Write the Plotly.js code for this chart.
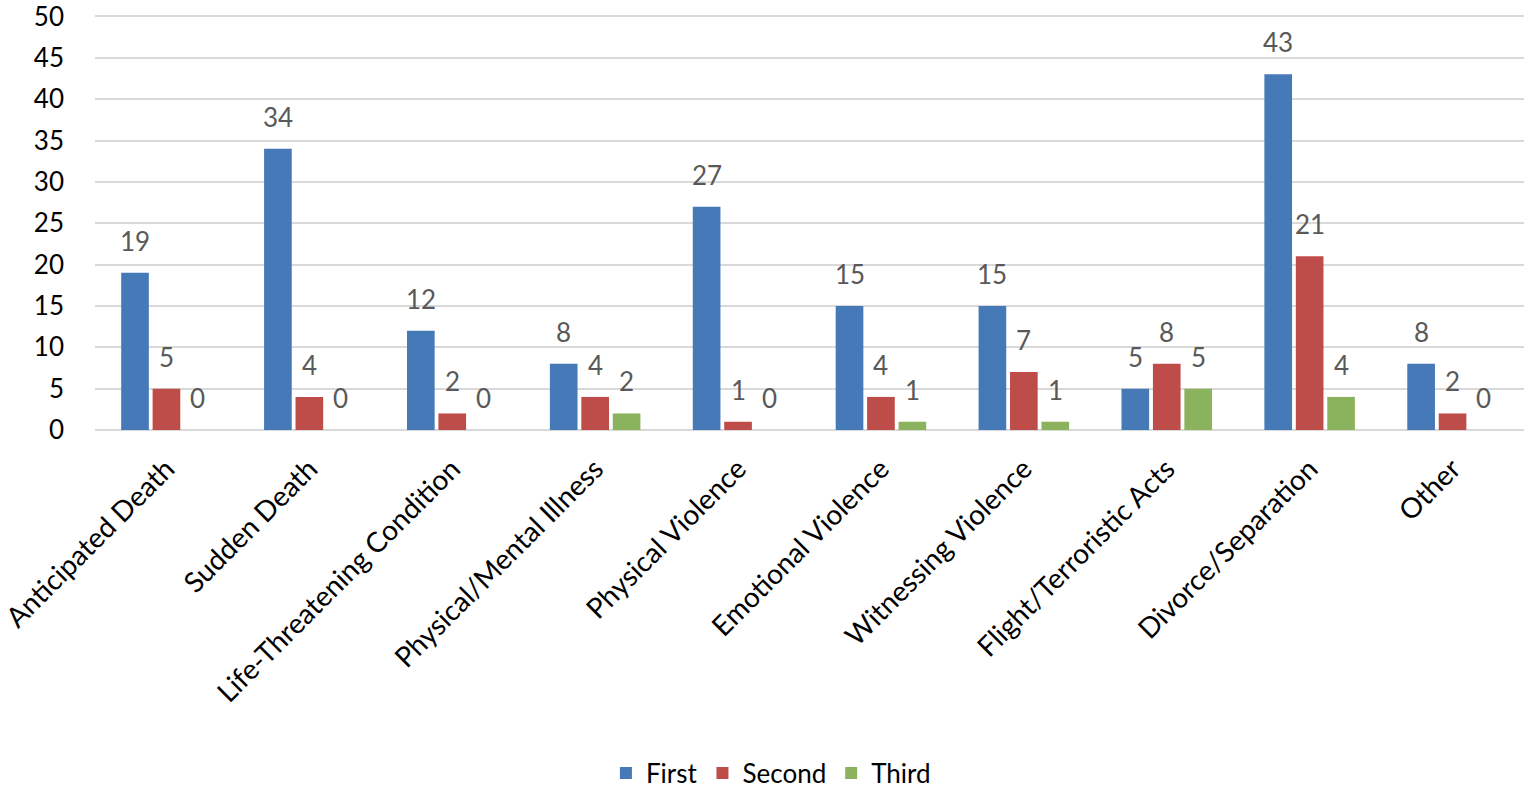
<!DOCTYPE html>
<html>
<head>
<meta charset="utf-8">
<script src="https://cdn.plot.ly/plotly-3.0.1.min.js"></script>
<style>html,body{margin:0;padding:0;background:#fff;}#chart{width:1524px;height:797px;}</style>
</head>
<body>
<div id="chart"></div>
<script>
const categories = ["Anticipated Death","Sudden Death","Life-Threatening Condition","Physical/Mental Illness","Physical Violence","Emotional Violence","Witnessing Violence","Flight/Terroristic Acts","Divorce/Separation","Other"];
const firstVals = [19,34,12,8,27,15,15,5,43,8];
const secondVals = [5,4,2,4,1,4,7,8,21,2];
const thirdVals = [0,0,0,2,0,1,1,5,4,0];
const seriesNames = ["First","Second","Third"];
const seriesColors = ["#4579B8","#BE4D4A","#8BB35D"];
const yTicks = [0,5,10,15,20,25,30,35,40,45,50];

const allVals = [firstVals, secondVals, thirdVals];
const FONT = "Lato, 'Open Sans', sans-serif";

const traces = allVals.map((v,i)=>({
  type:'bar', name:seriesNames[i], x:categories, y:v,
  marker:{color:seriesColors[i]}, hoverinfo:'skip'
}));

const plotW = 1524-95, nCat = categories.length, bargap = 0.34, groupgap = 0.12;
const slot = plotW/nCat*(1-bargap)/3;
const annotations = [];
allVals.forEach((v,i)=>{
  v.forEach((val,j)=>{
    annotations.push({xref:'x', yref:'y', x:categories[j], y:val, text:String(val),
      showarrow:false, xshift:(i-1)*slot, yanchor:'bottom', yshift:14,
      font:{family:FONT, size:26, color:'#595959'}});
  });
});

const layout = {
  width:1524, height:797,
  margin:{l:95, r:0, t:14, b:364},
  paper_bgcolor:'#fff', plot_bgcolor:'#fff',
  barmode:'group', bargap:bargap, bargroupgap:groupgap,
  font:{family:FONT, size:25, color:'#000'},
  xaxis:{type:'category', tickangle:-45, showgrid:false, zeroline:false, showline:false,
    ticks:'', ticklabelstandoff:16, tickfont:{family:FONT, size:28, color:'#000'}, automargin:false},
  yaxis:{range:[0,50.3], tickvals:yTicks, ticktext:yTicks.map(String), showgrid:true,
    gridcolor:'#D9D9D9', gridwidth:2, zeroline:true, zerolinecolor:'#D9D9D9', zerolinewidth:2,
    showline:false, ticks:'', ticklabelstandoff:30, ticklabeloverflow:'allow',
    tickfont:{family:FONT, size:26, color:'#000'}, automargin:false},
  legend:{orientation:'h', x:0.473, xanchor:'center', y:-0.825, yanchor:'middle',
    font:{family:FONT, size:26, color:'#000'}, itemwidth:30},
  annotations:annotations,
  showlegend:true
};
Plotly.newPlot('chart', traces, layout, {displayModeBar:false, staticPlot:true});
</script>
</body>
</html>
